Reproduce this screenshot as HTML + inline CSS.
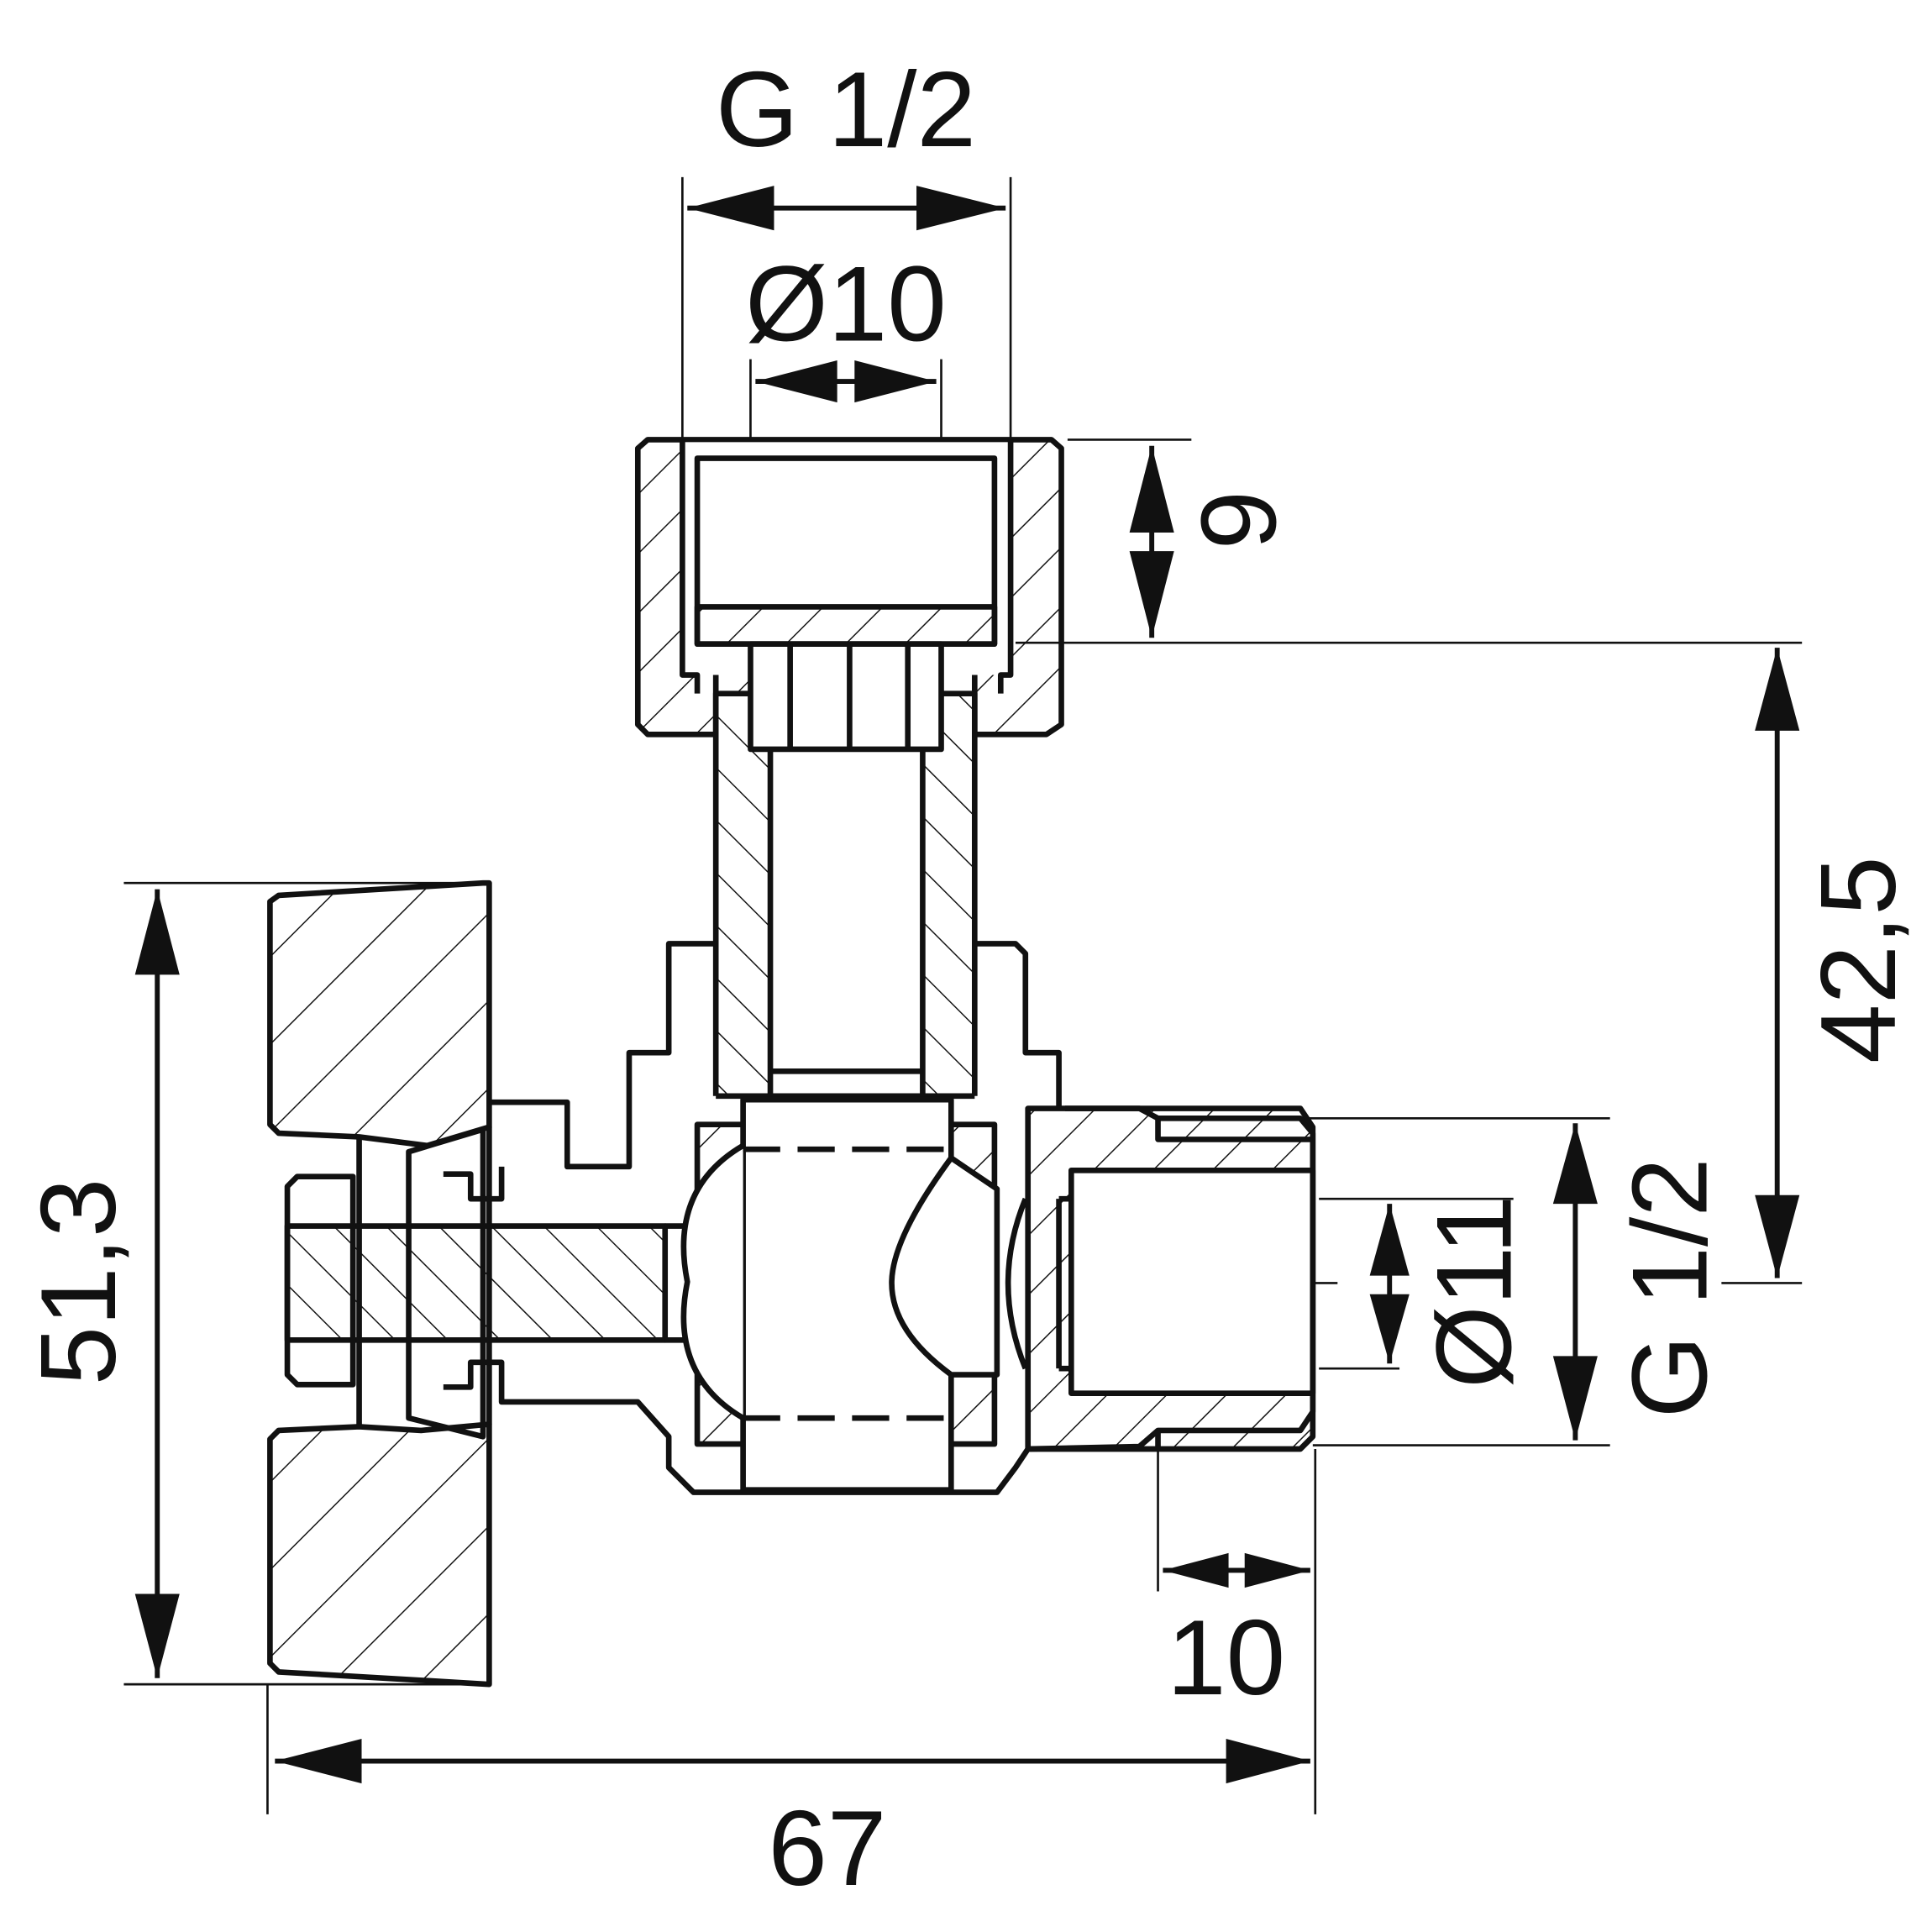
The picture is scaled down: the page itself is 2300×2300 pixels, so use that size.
<!DOCTYPE html>
<html><head><meta charset="utf-8"><style>
html,body{margin:0;padding:0;background:#fff}
svg{display:block}
text{font-family:"Liberation Sans",sans-serif;fill:#111}
</style></head><body>
<svg width="2300" height="2300" viewBox="0 0 1560 1560" xmlns="http://www.w3.org/2000/svg">
<defs>
<pattern id="h" width="34" height="34" patternUnits="userSpaceOnUse" patternTransform="rotate(45)"><line x1="0" y1="0" x2="0" y2="34" stroke="#111" stroke-width="2"/></pattern>
<pattern id="hb" width="50" height="50" patternUnits="userSpaceOnUse" patternTransform="rotate(45)"><line x1="0" y1="0" x2="0" y2="50" stroke="#111" stroke-width="2"/></pattern>
<pattern id="hs" width="30" height="30" patternUnits="userSpaceOnUse" patternTransform="rotate(-45)"><line x1="0" y1="0" x2="0" y2="30" stroke="#111" stroke-width="2"/></pattern>
</defs>
<g fill="none" stroke="#111" stroke-width="1.8">
<line x1="551" y1="143" x2="551" y2="355"/><line x1="816" y1="143" x2="816" y2="355"/>
<line x1="606" y1="290" x2="606" y2="520"/><line x1="760" y1="290" x2="760" y2="520"/>
<line x1="862" y1="355" x2="962" y2="355"/><line x1="820" y1="519" x2="1455" y2="519"/>
<line x1="1390" y1="1036" x2="1455" y2="1036"/>
<line x1="100" y1="713" x2="395" y2="713"/><line x1="100" y1="1360" x2="390" y2="1360"/>
<line x1="1050" y1="903" x2="1300" y2="903"/><line x1="1060" y1="1167" x2="1300" y2="1167"/>
<line x1="1065" y1="968" x2="1222" y2="968"/><line x1="1065" y1="1105" x2="1130" y2="1105"/>
<line x1="960" y1="1036" x2="1080" y2="1036"/>
<line x1="935" y1="1170" x2="935" y2="1285"/><line x1="1062" y1="1170" x2="1062" y2="1465"/>
<line x1="216" y1="1360" x2="216" y2="1465"/>
<line x1="555" y1="168" x2="812" y2="168" stroke-width="4"/>
<line x1="610" y1="308" x2="756" y2="308" stroke-width="4"/>
<line x1="930" y1="360" x2="930" y2="515" stroke-width="4"/>
<line x1="1435" y1="523" x2="1435" y2="1032" stroke-width="4"/>
<line x1="127" y1="718" x2="127" y2="1355" stroke-width="4"/>
<line x1="1272" y1="907" x2="1272" y2="1163" stroke-width="4"/>
<line x1="1122" y1="972" x2="1122" y2="1101" stroke-width="4"/>
<line x1="939" y1="1268" x2="1058" y2="1268" stroke-width="4"/>
<line x1="222" y1="1422" x2="1058" y2="1422" stroke-width="4"/>
</g>
<g fill="#111">
<polygon points="555,168 625,150 625,186"/><polygon points="812,168 740,150 740,186"/>
<polygon points="610,308 676,291 676,325"/><polygon points="756,308 690,291 690,325"/>
<polygon points="930,360 912,430 948,430"/><polygon points="930,515 912,445 948,445"/>
<polygon points="1435,523 1417,590 1453,590"/><polygon points="1435,1032 1417,965 1453,965"/>
<polygon points="127,718 109,787 145,787"/><polygon points="127,1355 109,1287 145,1287"/>
<polygon points="1272,907 1254,972 1290,972"/><polygon points="1272,1163 1254,1095 1290,1095"/>
<polygon points="1122,972 1106,1030 1138,1030"/><polygon points="1122,1101 1106,1045 1138,1045"/>
<polygon points="939,1268 992,1254 992,1282"/><polygon points="1058,1268 1005,1254 1005,1282"/>
<polygon points="222,1422 292,1404 292,1440"/><polygon points="1058,1422 990,1404 990,1440"/>
</g>
<g stroke="#111" stroke-width="4.5" stroke-linejoin="round">
<path d="M523,355 L849,355 L857,362 L857,585 L845,593 L787,593 L787,560 L578,560 L578,593 L523,593 L515,585 L515,362 Z" fill="url(#h)"/>
<rect x="553" y="357" width="261" height="188" fill="#fff" stroke="none"/>
<rect x="563" y="370" width="240" height="150" fill="#fff"/>
<rect x="563" y="490" width="240" height="30" fill="url(#h)"/>
<path d="M551,355 L551,545 L563,545 L563,560 M816,355 L816,545 L808,545 L808,560" fill="none"/>
<rect x="580" y="560" width="42" height="325" fill="url(#hs)" stroke="none"/>
<rect x="745" y="560" width="40" height="325" fill="url(#hs)" stroke="none"/>
<path d="M578,545 L578,885 M622,520 L622,885 M745,520 L745,885 M787,545 L787,885 M578,885 L787,885" fill="none"/>
<rect x="606" y="520" width="154" height="85" fill="#fff"/>
<path d="M638,520 L638,605 M686,520 L686,605 M733,520 L733,605" fill="none"/>
<line x1="622" y1="865" x2="745" y2="865"/>
<path d="M218,728 L225,723 L390,713 L395,713 L395,910 L345,925 L290,918 L225,915 L218,908 Z" fill="url(#hb)"/>
<path d="M218,1162 L225,1155 L290,1152 L340,1155 L395,1150 L395,1360 L225,1350 L218,1343 Z" fill="url(#hb)"/>
<path d="M290,918 L290,1152 M395,910 L395,1150" fill="none"/>
<path d="M395,890 L458,890 L458,942 L508,942 L508,850 L540,850 L540,762 L578,762 M787,762 L820,762 L828,770 L828,850 L855,850 L855,895" fill="none"/>
<rect x="232" y="990" width="305" height="92" fill="url(#hs)"/>
<path d="M232,958 L240,950 L285,950 L285,1118 L240,1118 L232,1110 Z" fill="none"/>
<path d="M330,930 L390,912 L390,1160 L330,1145 Z" fill="none"/>
<path d="M358,948 L380,948 L380,968 L405,968 L405,942 M358,1120 L380,1120 L380,1100 L405,1100 L405,1132 L515,1132 L540,1160 L540,1185 L560,1205 L805,1205 L820,1185 L830,1170 L920,1168 L935,1155 L1050,1155 L1060,1140 L1060,915 L1050,903 L935,903 L920,895 L860,895" fill="none"/>
<path d="M537,990 L580,990 L580,1082 L537,1082" fill="none"/>
<rect x="563" y="908" width="240" height="258" fill="url(#h)"/>
<rect x="600" y="888" width="168" height="315" fill="#fff"/>
<path d="M600,925 Q540,960 555,1035 Q540,1110 600,1145" fill="#fff"/>
<path d="M768,935 Q720,1000 720,1036 Q720,1075 768,1110 L805,1110 L805,960 Z" fill="#fff"/>
<path d="M600,928 L768,928 M600,1145 L768,1145" stroke-dasharray="30,14" fill="none"/>
<path d="M828,968 Q800,1036 828,1105" fill="none"/>
<path d="M830,895 L1050,895 L1060,910 L1060,1160 L1050,1170 L830,1170 Z" fill="url(#h)"/>
<rect x="865" y="945" width="195" height="180" fill="#fff"/>
<path d="M855,968 L865,968 M855,1105 L865,1105 M855,968 L855,1105" fill="none"/>
<path d="M935,903 L935,920 L1060,920 M935,1170 L935,1155" fill="none"/>
</g>
<text x="683" y="118" font-size="86" text-anchor="middle">G 1/2</text>
<text x="683" y="275" font-size="86" text-anchor="middle">Ø10</text>
<text x="990" y="1368" font-size="86" text-anchor="middle">10</text>
<text x="668" y="1522" font-size="86" text-anchor="middle">67</text>
<text font-size="86" text-anchor="middle" transform="translate(1030,420) rotate(-90)">9</text>
<text font-size="86" text-anchor="middle" transform="translate(1530,775) rotate(-90)">42,5</text>
<text font-size="86" text-anchor="middle" transform="translate(93,1035) rotate(-90)">51,3</text>
<text font-size="86" text-anchor="middle" transform="translate(1220,1043) rotate(-90)">Ø11</text>
<text font-size="86" text-anchor="middle" transform="translate(1378,1040) rotate(-90)">G 1/2</text>
</svg>
</body></html>
